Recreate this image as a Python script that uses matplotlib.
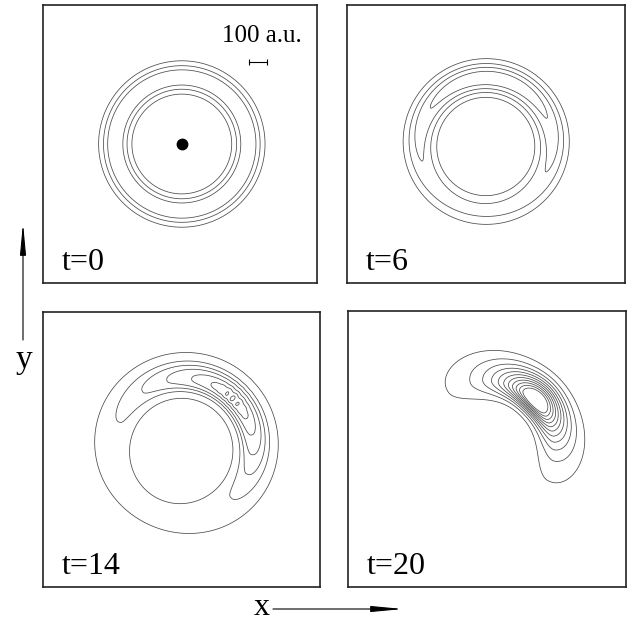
import numpy as np
import matplotlib
matplotlib.use('Agg')
import matplotlib.pyplot as plt
from matplotlib.patches import FancyArrowPatch

W, H = 629, 622
AU_PER_PX = 5.5

# ---------------- data ----------------
time_labels = ['t=0', 't=6', 't=14', 't=20']
# ring-shaped wave packet model parameters (a.u. and degrees)
center_x = [10, 0, 0, 0]
center_y = [0, 0, 0, 0]
ring_radius = [366, 363, 380, 378]
radius_shift = [0, 0, 16, 0]
radius_shift_angle = [0, 0, 45, 0]
width_inner = [55, 60, 62, 50]
width_outer = [55, 60, 80, 75]
width_growth = [0, 0, 0, 1.0]
radial_power = [2, 2, 2.5, 2]
peak_angle = [90, 85, 45, 45]
env_k_pos = [0.0, 0.355, 0.7, 3.6]
env_k_neg = [0.0, 0.355, 0.98, 4.0]
env_q = [1, 1, 1, 0.6]
env_eps = [0, 0, 0, 0.03]
ripple_amp = [0, 0, 0.012, 0]
ripple_freq = [0, 0, 60, 0]

levels_t0 = [0.25, 0.50, 0.75]
levels_t6 = [0.207, 0.414, 0.621, 0.828]
levels_t14 = [0.10, 0.38, 0.567, 0.72, 0.86, 0.95, 1.0]
levels_t20 = [0.06, 0.135, 0.21, 0.285, 0.36, 0.435, 0.51, 0.585, 0.66, 0.735, 0.81]
panel_levels = [levels_t0, levels_t6, levels_t14, levels_t20]

nucleus_xy = (10, 0)
scale_bar_len = 100  # a.u.
scale_label = '100 a.u.'

# ---------------- layout ----------------
panel_boxes = [(43, 5, 317, 283), (347, 5, 625, 283),
               (43, 312, 320, 587), (348, 311, 626, 587)]

fig = plt.figure(figsize=(W / 100, H / 100), dpi=100)
fig.patch.set_facecolor('white')
serif = ['Liberation Serif', 'DejaVu Serif']


def field(i, X, Y):
    dx = X - center_x[i]
    dy = Y - center_y[i]
    r = np.hypot(dx, dy)
    th = np.arctan2(dy, dx)
    R = ring_radius[i] + radius_shift[i] * np.cos(th - np.radians(radius_shift_angle[i]))
    delta = np.angle(np.exp(1j * (th - np.radians(peak_angle[i]))))
    omc = 1 - np.cos(delta)
    d = r - R
    w = np.where(d < 0, width_inner[i], width_outer[i]) * (1 + width_growth[i] * omc)
    radial = np.exp(-0.5 * np.abs(d / w) ** radial_power[i])
    k = 0.5 * (env_k_pos[i] + env_k_neg[i]) + 0.5 * (env_k_pos[i] - env_k_neg[i]) * np.sin(delta)
    eps = env_eps[i]
    ang = np.exp(-k * ((omc + eps) ** env_q[i] - eps ** env_q[i]))
    ang = ang * (1 + ripple_amp[i] * np.cos(ripple_freq[i] * delta)
                 * np.exp(-(delta / 0.2) ** 2))
    return ang * radial


for i, (x0, y0, x1, y1) in enumerate(panel_boxes):
    ax = fig.add_axes([x0 / W, 1 - y1 / H, (x1 - x0) / W, (y1 - y0) / H])
    hw = (x1 - x0) / 2 * AU_PER_PX
    hh = (y1 - y0) / 2 * AU_PER_PX
    xs = np.linspace(-hw, hw, 600)
    ys = np.linspace(-hh, hh, 600)
    X, Y = np.meshgrid(xs, ys)
    F = field(i, X, Y)
    ax.contour(X, Y, F, levels=panel_levels[i], colors='#4a4a4a', linewidths=0.55)
    ax.set_xlim(-hw, hw)
    ax.set_ylim(-hh, hh)
    ax.set_xticks([])
    ax.set_yticks([])
    for sp in ax.spines.values():
        sp.set_linewidth(1.2)
        sp.set_color('#222222')
    ax.text(0.068, 0.048, time_labels[i], transform=ax.transAxes, fontsize=23,
            family=serif, ha='left', va='baseline')
    if i == 0:
        ax.plot([nucleus_xy[0]], [nucleus_xy[1]], 'o', color='black', markersize=7.5)
        bx0 = 379
        by = 451
        ax.plot([bx0, bx0 + scale_bar_len], [by, by], color='black', lw=0.8)
        ax.plot([bx0, bx0 + scale_bar_len], [by, by], '|', color='black',
                markersize=5, mew=0.8)
        ax.text(451, 561, scale_label, fontsize=18, family=serif,
                ha='center', va='baseline')

# axis arrows and labels
arr_y = FancyArrowPatch((23 / W, 1 - 340 / H), (23 / W, 1 - 223 / H),
                        transform=fig.transFigure,
                        arrowstyle='-|>,head_length=1.9,head_width=0.18',
                        mutation_scale=10, lw=0.8, color='black',
                        shrinkA=0, shrinkB=0)
fig.add_artist(arr_y)
arr_x = FancyArrowPatch((273 / W, 1 - 609 / H), (403 / W, 1 - 609 / H),
                        transform=fig.transFigure,
                        arrowstyle='-|>,head_length=1.9,head_width=0.18',
                        mutation_scale=10, lw=0.8, color='black',
                        shrinkA=0, shrinkB=0)
fig.add_artist(arr_x)
fig.text(24 / W, 1 - 368 / H, 'y', fontsize=24, family=serif, ha='center', va='baseline')
fig.text(262 / W, 1 - 615 / H, 'x', fontsize=23, family=serif, ha='center', va='baseline')

fig.savefig('out.png', dpi=100, facecolor='white')
